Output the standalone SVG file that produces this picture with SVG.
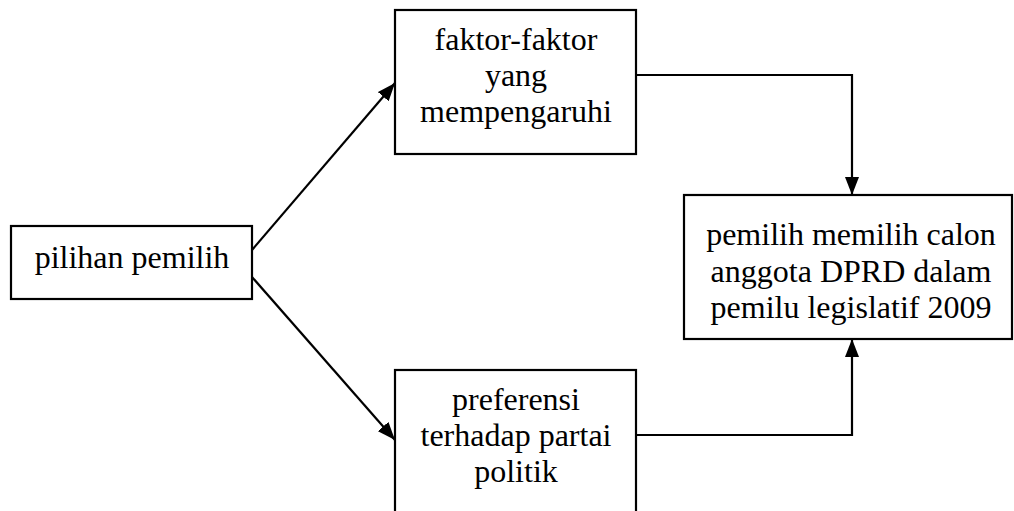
<svg xmlns="http://www.w3.org/2000/svg" width="1014" height="511" viewBox="0 0 1014 511">
<style>
.box{fill:#fff;stroke:#000;stroke-width:2.2}
.t{font-family:"Liberation Serif","Times New Roman",serif;font-size:32px;fill:#000;text-anchor:middle}
.c{fill:none;stroke:#000;stroke-width:2.2}
</style>
<defs>
<marker id="ah" markerWidth="18" markerHeight="14" refX="18" refY="7" orient="auto" markerUnits="userSpaceOnUse">
<path d="M0,0 L18,7 L0,14 Z" fill="#000"/>
</marker>
</defs>
<g id="connectors">
<path class="c" d="M252,250 L395,83" marker-end="url(#ah)"/>
<path class="c" d="M252,277 L395,440" marker-end="url(#ah)"/>
<path class="c" d="M636,75 L852,75 L852,195" marker-end="url(#ah)"/>
<path class="c" d="M636,435 L852,435 L852,339" marker-end="url(#ah)"/>
</g>
<g id="n1">
<rect class="box" x="11" y="226" width="241" height="73"/>
<text class="t" x="132" y="268">pilihan pemilih</text>
</g>
<g id="n2">
<rect class="box" x="395" y="10" width="241" height="144"/>
<text class="t" x="516" y="50">faktor-faktor</text>
<text class="t" x="516" y="86">yang</text>
<text class="t" x="516" y="122">mempengaruhi</text>
</g>
<g id="n3">
<rect class="box" x="395" y="370" width="241" height="160"/>
<text class="t" x="516" y="410">preferensi</text>
<text class="t" x="516" y="446">terhadap partai</text>
<text class="t" x="516" y="482">politik</text>
</g>
<g id="n4">
<rect class="box" x="684" y="195" width="328" height="144"/>
<text class="t" x="851" y="245">pemilih memilih calon</text>
<text class="t" x="851" y="282">anggota DPRD dalam</text>
<text class="t" x="851" y="318">pemilu legislatif 2009</text>
</g>
</svg>
